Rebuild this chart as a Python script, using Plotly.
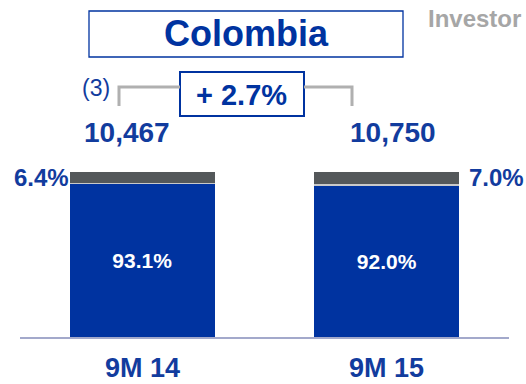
import plotly.graph_objects as go

# Revenue mix, Colombia (9M 14 vs 9M 15)
periods = ["9M 14", "9M 15"]
main_share = [93.1, 92.0]      # main segment, % of total
minor_share = [6.4, 7.0]       # secondary segment, % of total
other_share = [0.5, 1.0]       # remainder
totals = [10467, 10750]
footnote = "(3)"

W, H = 526, 384
BLUE = "#0033a0"
TEXT_BLUE = "#123c9e"
DARK_GREY = "#54585a"
FONT = "Arial, Liberation Sans, sans-serif"


def px(x):
    return x / W


def py(y):
    return 1 - y / H


def bold(s):
    return f"<b>{s}</b>"


fig = go.Figure()
fig.add_trace(go.Bar(
    x=periods, y=main_share, marker=dict(color=BLUE, line=dict(width=0)),
    text=[bold(f"{v:.1f}%") for v in main_share],
    textposition="inside", insidetextanchor="middle",
    textfont=dict(family=FONT, size=21, color="white"),
    hoverinfo="skip",
))
fig.add_trace(go.Bar(
    x=periods, y=other_share, marker=dict(color="#c9c9c9", line=dict(width=0)),
    hoverinfo="skip",
))
fig.add_trace(go.Bar(
    x=periods, y=minor_share, marker=dict(color=DARK_GREY, line=dict(width=0)),
    hoverinfo="skip",
))

annotations = []
# secondary-segment labels beside the bars
for i, (p, m, o, s) in enumerate(zip(periods, main_share, other_share, minor_share)):
    left = i == 0
    annotations.append(dict(
        x=p, y=m + o + s / 2, xref="x", yref="y",
        text=bold(f"{s:.1f}%"), showarrow=False,
        xanchor="right" if left else "left", yanchor="middle",
        xshift=-71 if left else 80,
        font=dict(family=FONT, size=24, color=TEXT_BLUE),
    ))
# totals above the bars
for i, (p, t, m, o, s) in enumerate(zip(periods, totals, main_share, other_share, minor_share)):
    annotations.append(dict(
        x=p, y=m + o + s, xref="x", yref="y",
        text=bold(f"{t:,}"), showarrow=False, xanchor="center", yanchor="middle",
        xshift=-15 if i == 0 else 6, yshift=40,
        font=dict(family=FONT, size=28, color=TEXT_BLUE),
    ))
# period labels under the axis
for p in periods:
    annotations.append(dict(
        x=p, y=0, xref="x", yref="y", text=bold(p), showarrow=False,
        xanchor="center", yanchor="middle", yshift=-31,
        font=dict(family=FONT, size=27, color=TEXT_BLUE),
    ))

growth = (totals[1] / totals[0] - 1) * 100
annotations += [
    dict(x=px(246), y=py(34), xref="paper", yref="paper", text=bold("Colombia"),
         showarrow=False, xanchor="center", yanchor="middle",
         font=dict(family=FONT, size=36, color=BLUE)),
    dict(x=px(426), y=py(18), xref="paper", yref="paper", text=bold("Investor"),
         showarrow=False, xanchor="left", yanchor="middle",
         font=dict(family=FONT, size=24, color="#a6a6a6")),
    dict(x=px(241.5), y=py(95), xref="paper", yref="paper", text=bold(f"+ {growth:.1f}%"),
         showarrow=False, xanchor="center", yanchor="middle",
         font=dict(family=FONT, size=29, color=BLUE)),
    dict(x=px(96.5), y=py(88), xref="paper", yref="paper", text=footnote,
         showarrow=False, xanchor="center", yanchor="middle",
         font=dict(family=FONT, size=23, color=TEXT_BLUE)),
]

GREY_LINE = dict(color="#b0b0b0", width=3)
shapes = [
    # title box
    dict(type="rect", xref="paper", yref="paper", x0=px(89), x1=px(403), y0=py(57), y1=py(11),
         line=dict(color=BLUE, width=1.3), fillcolor="white", layer="below"),
    # growth bracket
    dict(type="path", xref="paper", yref="paper",
         path=f"M {px(119)},{py(106)} L {px(119)},{py(87)} L {px(180)},{py(87)}", line=GREY_LINE),
    dict(type="path", xref="paper", yref="paper",
         path=f"M {px(304)},{py(87)} L {px(352)},{py(87)} L {px(352)},{py(106)}", line=GREY_LINE),
    # growth box
    dict(type="rect", xref="paper", yref="paper", x0=px(180), x1=px(304), y0=py(116), y1=py(72),
         line=dict(color=BLUE, width=2), fillcolor="white", layer="below"),
]

fig.update_layout(
    width=W, height=H, barmode="stack", bargap=0.407,
    margin=dict(l=0, r=0, t=0, b=0), showlegend=False,
    paper_bgcolor="white", plot_bgcolor="white",
    annotations=annotations, shapes=shapes,
)
fig.update_xaxes(
    type="category", range=[-0.5, 1.5], domain=[px(20), px(509)],
    showticklabels=False, showgrid=False, zeroline=False, ticks="",
    showline=True, linecolor="#a3a9cb", linewidth=2,
)
fig.update_yaxes(
    range=[0, 100], domain=[py(337), py(172)],
    showticklabels=False, showgrid=False, zeroline=False, showline=False,
)

fig.write_html("out.html")
